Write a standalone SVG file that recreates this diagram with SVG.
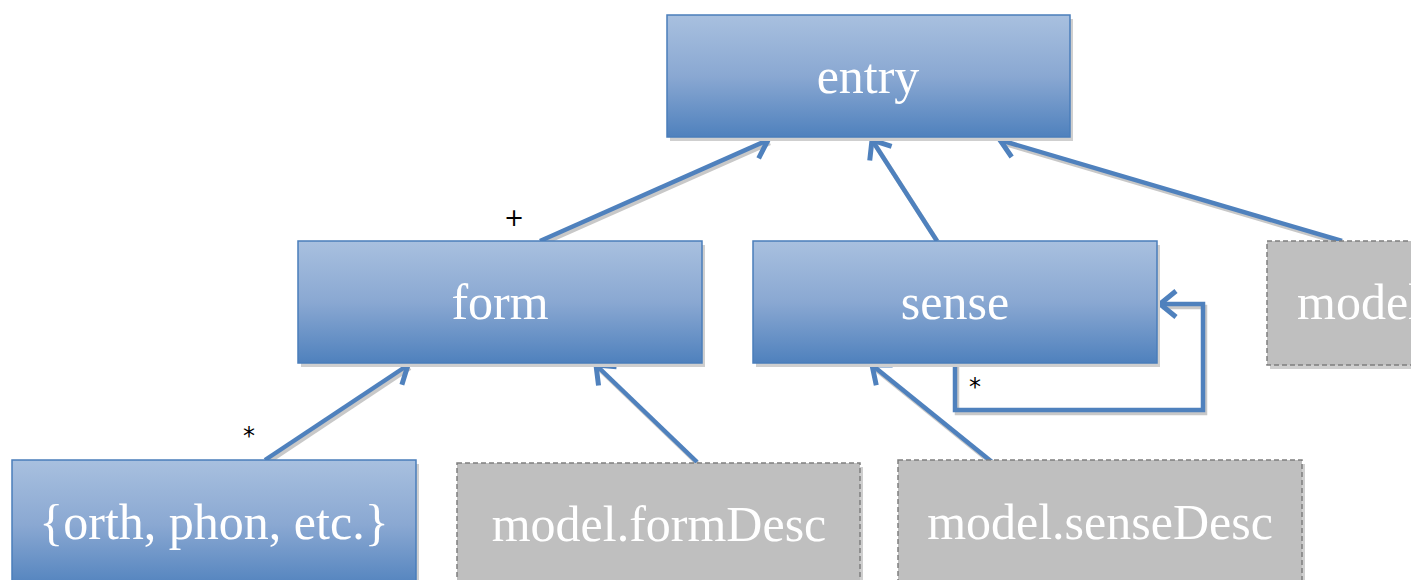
<svg xmlns="http://www.w3.org/2000/svg" width="1411" height="580" viewBox="0 0 1411 580">
<defs>
<linearGradient id="blue" x1="0" y1="0" x2="0" y2="1">
<stop offset="0" stop-color="#A8C0DF"/>
<stop offset="0.5" stop-color="#8AA8D2"/>
<stop offset="1" stop-color="#4F81BD"/>
</linearGradient>
<marker id="arr" markerUnits="userSpaceOnUse" markerWidth="40" markerHeight="40" refX="0" refY="0" viewBox="-20 -20 40 40" orient="auto" overflow="visible">
<path d="M-16,-13 L0,0 L-16,13" fill="none" stroke="#4F81BD" stroke-width="5" stroke-linejoin="miter"/>
</marker>
</defs>
<style>
.blue{fill:url(#blue);stroke:#4A7EBB;stroke-width:1.5}
.gray{fill:#BFBFBF;stroke:#7F7F7F;stroke-width:1.5;stroke-dasharray:5 3}
.shadow{fill:#CFCFCF}
.lbl{font-family:"Liberation Serif",serif;font-size:50px;fill:#FFFFFF;text-anchor:middle;dominant-baseline:central}
.mult{font-family:"DejaVu Sans",sans-serif;font-size:24px;fill:#000000;text-anchor:middle}
.c{fill:none;stroke:#4F81BD;stroke-width:4.5;marker-end:url(#arr)}
.cs{fill:none;stroke:#C8C8C8;stroke-width:4.5}
</style>
<g id="connectors">
<g transform="translate(2,3)">
<path class="cs" d="M540,241 L768,140"/>
<path class="cs" d="M937,241 L872,140"/>
<path class="cs" d="M1342,241 L1000,140"/>
<path class="cs" d="M265,460 L408,365"/>
<path class="cs" d="M697,462 L596,365"/>
<path class="cs" d="M992,462 L872,365"/>
<path class="cs" d="M955,363 L955,410 L1203,410 L1203,304 L1160,304"/>
</g>
<path class="c" d="M540,241 L768,140"/>
<path class="c" d="M937,241 L872,140"/>
<path class="c" d="M1342,241 L1000,140"/>
<path class="c" d="M265,460 L408,365"/>
<path class="c" d="M697,462 L596,365"/>
<path class="c" d="M992,462 L872,365"/>
<path class="c" d="M955,363 L955,410 L1203,410 L1203,304 L1160,304"/>
<text class="mult" x="514" y="226">+</text>
<text class="mult" x="249" y="444">*</text>
<text class="mult" x="975" y="395">*</text>
</g>
<g id="entry">
<rect class="shadow" x="670" y="19" width="403" height="122"/>
<rect class="blue" x="667" y="15" width="403" height="122"/>
<text class="lbl" x="868" y="76">entry</text>
</g>
<g id="form">
<rect class="shadow" x="301" y="245" width="404" height="122"/>
<rect class="blue" x="298" y="241" width="404" height="122"/>
<text class="lbl" x="500" y="302">form</text>
</g>
<g id="sense">
<rect class="shadow" x="756" y="245" width="404" height="122"/>
<rect class="blue" x="753" y="241" width="404" height="122"/>
<text class="lbl" x="955" y="302">sense</text>
</g>
<g id="model">
<rect class="shadow" x="1270" y="245" width="160" height="124"/>
<rect class="gray" x="1267" y="241" width="160" height="124"/>
<text class="lbl" x="1297" y="302" style="text-anchor:start">model</text>
</g>
<g id="orth">
<rect class="shadow" x="15" y="464" width="404" height="130"/>
<rect class="blue" x="12" y="460" width="404" height="130"/>
<text class="lbl" x="214" y="522">{orth, phon, etc.}</text>
</g>
<g id="formDesc">
<rect class="shadow" x="460" y="467" width="403" height="130"/>
<rect class="gray" x="457" y="463" width="403" height="130"/>
<text class="lbl" x="659" y="524">model.formDesc</text>
</g>
<g id="senseDesc">
<rect class="shadow" x="901" y="464" width="404" height="130"/>
<rect class="gray" x="898" y="460" width="404" height="130"/>
<text class="lbl" x="1100" y="522">model.senseDesc</text>
</g>
</svg>
